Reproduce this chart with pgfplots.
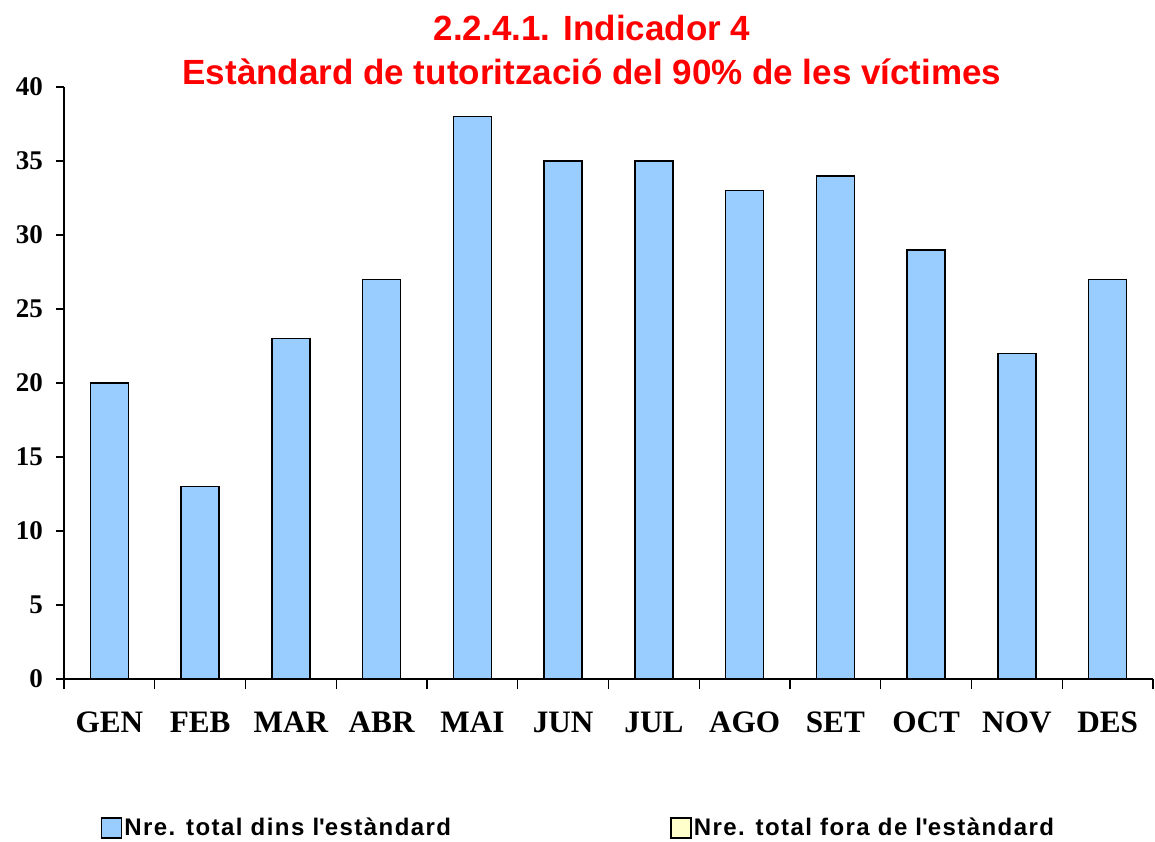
\documentclass[border=0pt]{standalone}
\usepackage{pgfplots}
\pgfplotsset{compat=1.18}
\usepackage{fontspec}
\setmainfont{Liberation Serif}
\setsansfont{Liberation Sans}
\newfontfamily\legfont{Liberation Sans}[LetterSpace=6]
\definecolor{barblue}{HTML}{99CCFF}
\definecolor{baryel}{HTML}{FFFFCC}
\pgfplotstableread{
x val
0 20
1 13
2 23
3 27
4 38
5 35
6 35
7 33
8 34
9 29
10 22
11 27
}\dins
\begin{document}
\begin{tikzpicture}
\useasboundingbox (-32pt,-81pt) rectangle (545.5pt,339.5pt);
\begin{axis}[
  at={(0,0)}, anchor=south west,
  scale only axis, width=544.5pt, height=296pt,
  xmin=-0.5, xmax=11.5, ymin=0, ymax=40,
  axis x line*=bottom, axis y line*=left,
  axis line style={line width=0.7pt, -},
  ybar, bar width=19pt,
  xtick={0,...,11},
  xticklabels={GEN,FEB,MAR,ABR,MAI,JUN,JUL,AGO,SET,OCT,NOV,DES},
  major x tick style={draw=none},
  minor xtick={-0.5,0.5,...,11.5},
  minor x tick style={line width=0.7pt, black},
  minor tick length=5pt,
  ytick={0,5,...,40},
  major tick length=4pt,
  y tick style={line width=0.7pt, black},
  tick align=outside,
  /pgf/number format/assume math mode=true,
  xticklabel style={font=\fontsize{15.6}{17}\selectfont\bfseries, yshift=-9pt},
  yticklabel style={font=\fontsize{13.5}{15}\selectfont\bfseries, xshift=-3pt},
  legend columns=2,
  legend style={at={(18.5pt,-74.5pt)}, anchor=west, draw=none, fill=none,
    font=\legfont\bfseries\fontsize{12}{14}\selectfont,
    inner sep=0pt, outer sep=0pt,
    nodes={inner xsep=1pt},
    /tikz/every even column/.append style={column sep=0pt}},
  legend image code/.code={\draw[#1, line width=0.7pt] (0pt,-5pt) rectangle (10pt,5pt);},
]
\addplot[fill=barblue, draw=black, line width=0.85pt] table[x=x, y=val] {\dins};
\addlegendentry{\makebox[272pt][l]{Nre. total dins l\textquotesingle estàndard}}
\addlegendimage{fill=baryel, draw=black}
\addlegendentry{Nre. total fora de l\textquotesingle estàndard}
\end{axis}
\node[font=\sffamily\bfseries\fontsize{17.5}{20}\selectfont, text=red] at (264pt,325.5pt) {2.2.4.1. Indicador 4};
\node[font=\sffamily\bfseries\fontsize{17.5}{20}\selectfont, text=red] at (264pt,303.5pt) {Estàndard de tutorització del 90\% de les víctimes};
\end{tikzpicture}
\end{document}
